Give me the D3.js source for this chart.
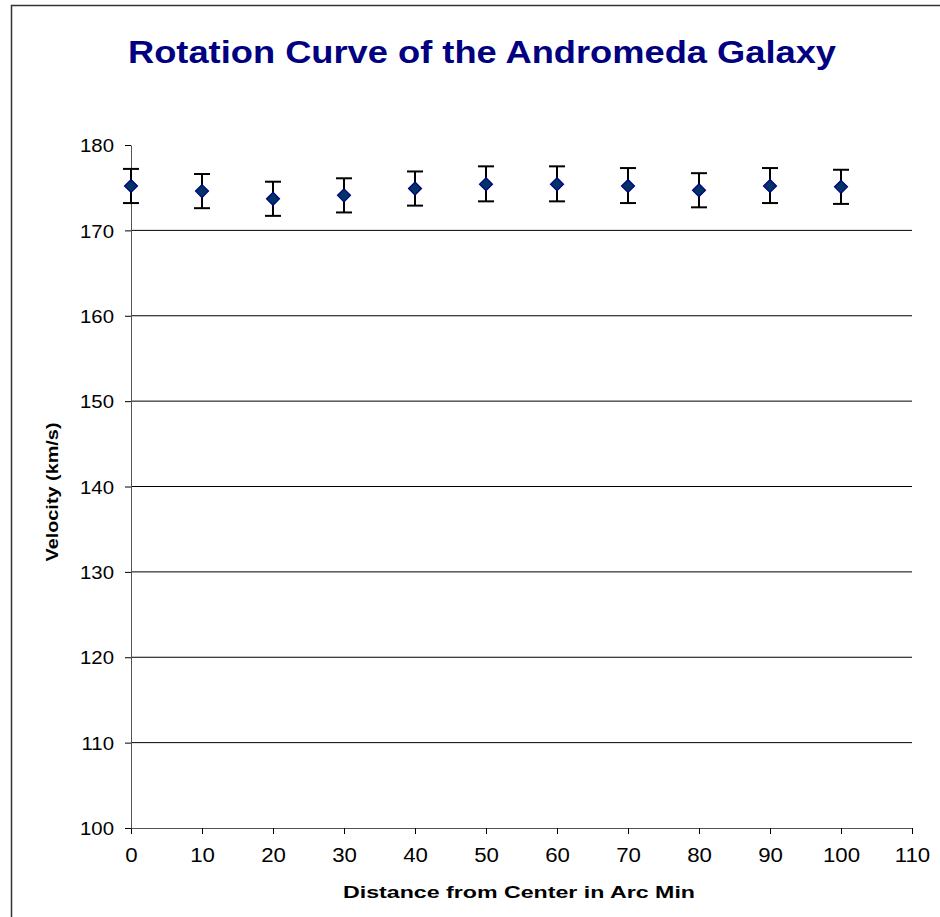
<!DOCTYPE html>
<html>
<head>
<meta charset="utf-8">
<script src="https://cdn.jsdelivr.net/npm/d3@7"></script>
<style>
  body { margin: 0; background: #fff; }
  text { font-family: "Liberation Sans", Arial, sans-serif; }
</style>
</head>
<body>
<svg width="940" height="917"></svg>
<script>
var distance = [0, 10, 20, 30, 40, 50, 60, 70, 80, 90, 100];
var velocity = [175.2, 174.6, 173.7, 174.1, 174.9, 175.4, 175.4, 175.2, 174.7, 175.2, 175.1];
var errorUp  = [2.0, 2.0, 2.0, 2.0, 2.0, 2.1, 2.1, 2.1, 2.0, 2.1, 2.0];
var errorDown = [2.0, 2.0, 2.0, 2.0, 2.0, 2.0, 2.0, 2.0, 2.0, 2.0, 2.0];
var xTicks = [0, 10, 20, 30, 40, 50, 60, 70, 80, 90, 100, 110];
var yTicks = [100, 110, 120, 130, 140, 150, 160, 170, 180];

// the original text is drawn a bit wider than plain Arial
function stretch(sel, factor) {
    sel.each(function() {
        var l = this.getComputedTextLength();
        d3.select(this).attr("textLength", l * factor).attr("lengthAdjust", "spacingAndGlyphs");
    });
}

function main() {
    var svg = d3.select("svg");

    // chart frame
    svg.append("rect")
       .attr("x", 11.5).attr("y", 5.5)
       .attr("width", 940).attr("height", 930)
       .attr("fill", "none")
       .attr("stroke", "#333")
       .attr("stroke-width", 1.5);

    svg.append("text")
       .attr("x", 482)
       .attr("y", 63)
       .attr("text-anchor", "middle")
       .attr("font-size", "30.5px")
       .attr("font-weight", "bold")
       .attr("fill", "#000080")
       .attr("textLength", 708)
       .attr("lengthAdjust", "spacingAndGlyphs")
       .text("Rotation Curve of the Andromeda Galaxy");

    var xScale = d3.scaleLinear().domain([0, 110]).range([131, 912]),
        yScale = d3.scaleLinear().domain([100, 180]).range([828, 145]);

    // grid lines
    svg.append("g")
       .selectAll("line")
       .data(yTicks.filter(function(d) { return d > 100 && d < 180; }))
       .enter().append("line")
       .attr("x1", xScale(0)).attr("x2", xScale(110))
       .attr("y1", function(d) { return yScale(d); })
       .attr("y2", function(d) { return yScale(d); })
       .attr("stroke", "#000")
       .attr("stroke-width", 1);

    var xAxis = svg.append("g")
       .attr("transform", "translate(0," + yScale(100) + ")")
       .call(d3.axisBottom(xScale).tickValues(xTicks).tickSize(6).tickPadding(5).tickSizeOuter(0));

    var yAxis = svg.append("g")
       .attr("transform", "translate(" + xScale(0) + ",0)")
       .call(d3.axisLeft(yScale).tickValues(yTicks).tickSize(6).tickPadding(0).tickSizeOuter(0));

    [xAxis, yAxis].forEach(function(a) {
        a.selectAll("path").attr("stroke", "#555");
        a.selectAll("line").attr("stroke", "#000");
        a.selectAll("text")
         .attr("font-family", "Liberation Sans, Arial, sans-serif")
         .attr("fill", "#000");
    });
    xAxis.selectAll("text").attr("font-size", "19.5px").attr("y", 34).attr("dy", 0);
    yAxis.selectAll("text").attr("font-size", "18.5px").attr("x", -17).attr("dy", "0.36em");
    stretch(xAxis.selectAll("text"), 1.14);
    stretch(yAxis.selectAll("text"), 1.1);

    svg.append("text")
       .attr("x", 519)
       .attr("y", 898)
       .attr("text-anchor", "middle")
       .attr("font-size", "16.5px")
       .attr("font-weight", "bold")
       .attr("textLength", 352)
       .attr("lengthAdjust", "spacingAndGlyphs")
       .text("Distance from Center in Arc Min");

    svg.append("text")
       .attr("transform", "translate(58," + 492 + ") rotate(-90)")
       .attr("text-anchor", "middle")
       .attr("font-size", "16px")
       .attr("font-weight", "bold")
       .attr("textLength", 139)
       .attr("lengthAdjust", "spacingAndGlyphs")
       .text("Velocity (km/s)");

    var pts = distance.map(function(d, i) {
        return { x: d, v: velocity[i], up: errorUp[i], dn: errorDown[i] };
    });

    var err = svg.append("g").attr("stroke", "#000").attr("stroke-width", 2);
    err.selectAll(".stem").data(pts).enter().append("line")
       .attr("x1", function(d) { return xScale(d.x); })
       .attr("x2", function(d) { return xScale(d.x); })
       .attr("y1", function(d) { return yScale(d.v + d.up); })
       .attr("y2", function(d) { return yScale(d.v - d.dn); });
    err.selectAll(".capTop").data(pts).enter().append("line")
       .attr("x1", function(d) { return xScale(d.x) - 8; })
       .attr("x2", function(d) { return xScale(d.x) + 8; })
       .attr("y1", function(d) { return yScale(d.v + d.up); })
       .attr("y2", function(d) { return yScale(d.v + d.up); });
    err.selectAll(".capBot").data(pts).enter().append("line")
       .attr("x1", function(d) { return xScale(d.x) - 8; })
       .attr("x2", function(d) { return xScale(d.x) + 8; })
       .attr("y1", function(d) { return yScale(d.v - d.dn); })
       .attr("y2", function(d) { return yScale(d.v - d.dn); });

    svg.append("g").selectAll("path")
       .data(pts).enter().append("path")
       .attr("d", "M0,-6.5L6.5,0L0,6.5L-6.5,0Z")
       .attr("transform", function(d) { return "translate(" + xScale(d.x) + "," + yScale(d.v) + ")"; })
       .attr("fill", "#003366")
       .attr("stroke", "#000080")
       .attr("stroke-width", 1.2);
}
main();
</script>
</body>
</html>
